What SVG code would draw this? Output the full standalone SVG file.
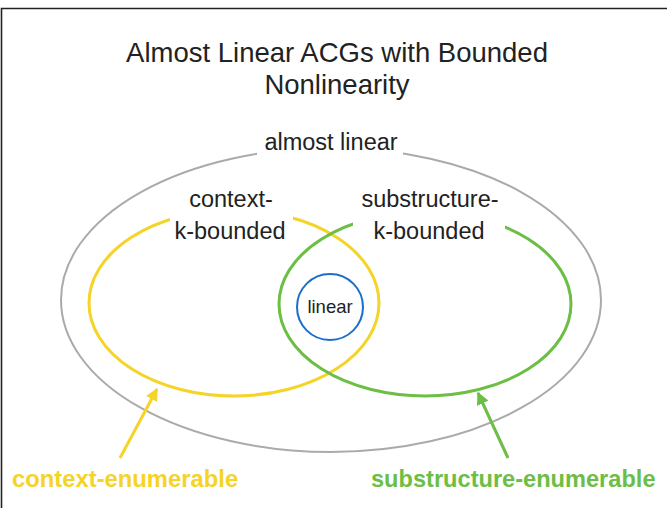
<svg xmlns="http://www.w3.org/2000/svg" width="667" height="508" viewBox="0 0 667 508">
  <style>
    .lbl { font-family: "Liberation Sans", Arial, sans-serif; fill: #222; text-anchor: middle; }
    .big { font-family: "Liberation Sans", Arial, sans-serif; font-weight: bold; }
    .set { fill: none; }
  </style>
  <defs>
    <marker id="ahY" viewBox="0 0 10 10" refX="9" refY="5" markerWidth="4.2" markerHeight="4.2" markerUnits="strokeWidth" orient="auto">
      <path d="M0,0 L10,5 L0,10 z" fill="#F5D327"/>
    </marker>
    <marker id="ahG" viewBox="0 0 10 10" refX="9" refY="5" markerWidth="4.2" markerHeight="4.2" markerUnits="strokeWidth" orient="auto">
      <path d="M0,0 L10,5 L0,10 z" fill="#6CBE45"/>
    </marker>
    <!-- gaps in the outlines behind the set labels -->
    <mask id="gapGray">
      <rect x="0" y="0" width="667" height="508" fill="#fff"/>
      <rect x="257" y="125" width="146" height="35" fill="#000"/>
    </mask>
    <mask id="gapYellow">
      <rect x="0" y="0" width="667" height="508" fill="#fff"/>
      <rect x="170" y="180" width="123" height="65" fill="#000"/>
    </mask>
    <mask id="gapGreen">
      <rect x="0" y="0" width="667" height="508" fill="#fff"/>
      <rect x="353" y="180" width="152" height="65" fill="#000"/>
    </mask>
  </defs>

  <rect x="0" y="0" width="667" height="508" fill="#fff"/>
  <!-- frame -->
  <path d="M1.5,508 V8.5 H667" fill="none" stroke="#222" stroke-width="1.6"/>

  <g id="title">
    <text class="lbl" x="337" y="62" font-size="27.5">Almost Linear ACGs with Bounded</text>
    <text class="lbl" x="337" y="94" font-size="27.5">Nonlinearity</text>
  </g>

  <g id="almost-linear">
    <ellipse class="set" cx="331" cy="300" rx="270" ry="152" stroke="#aaa" stroke-width="2" mask="url(#gapGray)"/>
    <text class="lbl" x="331" y="150" font-size="23.5">almost linear</text>
  </g>

  <g id="context-k-bounded">
    <ellipse class="set" cx="234" cy="303" rx="145" ry="93" stroke="#F5D327" stroke-width="3" mask="url(#gapYellow)"/>
    <text class="lbl" x="231" y="207" font-size="23.5">context-</text>
    <text class="lbl" x="230" y="239" font-size="23.5">k-bounded</text>
  </g>

  <g id="substructure-k-bounded">
    <ellipse class="set" cx="425" cy="304" rx="146" ry="92" stroke="#6CBE45" stroke-width="3" mask="url(#gapGreen)"/>
    <text class="lbl" x="430" y="207" font-size="23.5">substructure-</text>
    <text class="lbl" x="429" y="239" font-size="23.5">k-bounded</text>
  </g>

  <g id="linear">
    <circle class="set" cx="330" cy="307" r="33" stroke="#1A6FC9" stroke-width="2"/>
    <text class="lbl" x="330" y="313" font-size="18.5">linear</text>
  </g>

  <g id="connectors">
    <line x1="120" y1="458" x2="157" y2="389" stroke="#F5D327" stroke-width="3" marker-end="url(#ahY)"/>
    <line x1="508" y1="458" x2="478" y2="393" stroke="#6CBE45" stroke-width="3" marker-end="url(#ahG)"/>
  </g>

  <g id="context-enumerable">
    <text class="big" x="12" y="487" font-size="23.8" fill="#F5D327">context-enumerable</text>
  </g>
  <g id="substructure-enumerable">
    <text class="big" x="371" y="487" font-size="23.6" fill="#6CBE45">substructure-enumerable</text>
  </g>
</svg>
